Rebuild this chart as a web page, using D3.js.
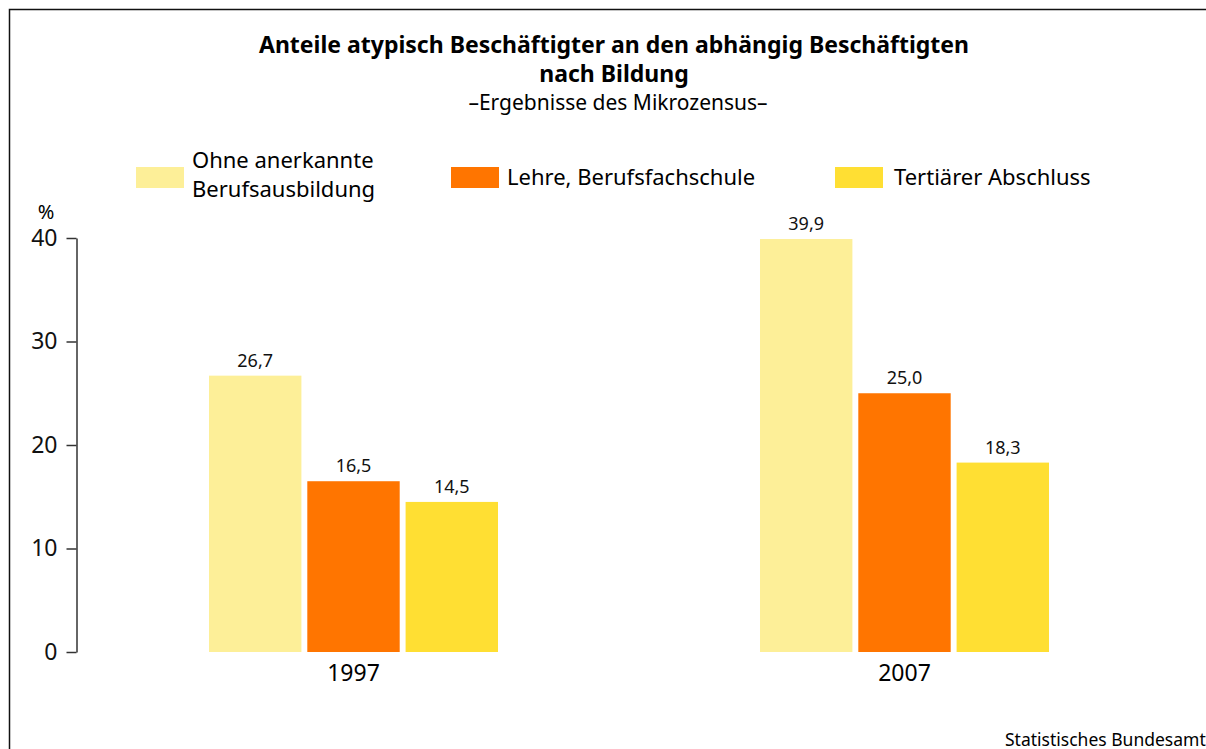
<!DOCTYPE html>
<html>
<head>
<meta charset="utf-8">
<script src="https://cdn.jsdelivr.net/npm/d3@7"></script>
<style>
  body { margin: 0; background: #fff; }
  svg { display: block; font-family: "Noto Sans", "Open Sans", sans-serif; }
</style>
</head>
<body>
<svg id="chart" width="1206" height="749"></svg>
<script>
// data
const years = ['1997', '2007']
const categories = ['Ohne anerkannte Berufsausbildung', 'Lehre, Berufsfachschule', 'Tertiärer Abschluss']
const values1997 = [26.7, 16.5, 14.5]
const values2007 = [39.9, 25.0, 18.3]
const yTicks = [0, 10, 20, 30, 40]
const colors = ['#fdef98', '#ff7500', '#ffdf33']

const svg = d3.select('#chart')

// frame (right and bottom edges run off the picture)
svg.append('rect')
    .attr('x', 9.5).attr('y', 9.5)
    .attr('width', 1300).attr('height', 800)
    .attr('fill', 'none')
    .attr('stroke', '#111')
    .attr('stroke-width', 1.5)

// title
svg.append('text')
    .attr('x', 614).attr('y', 53)
    .attr('text-anchor', 'middle')
    .attr('font-size', 23).attr('font-weight', 'bold')
    .text('Anteile atypisch Beschäftigter an den abhängig Beschäftigten')
svg.append('text')
    .attr('x', 614).attr('y', 82)
    .attr('text-anchor', 'middle')
    .attr('font-size', 23).attr('font-weight', 'bold')
    .text('nach Bildung')
svg.append('text')
    .attr('x', 618).attr('y', 110)
    .attr('text-anchor', 'middle')
    .attr('font-size', 21)
    .text('–Ergebnisse des Mikrozensus–')

// legend
const legendX = [136, 451, 835]
const legend = svg.selectAll('.legend')
    .data(categories)
    .enter()
    .append('g')
    .attr('class', 'legend')
    .attr('transform', (d, i) => `translate(${legendX[i]}, 167)`)

legend.append('rect')
    .attr('width', 48).attr('height', 21)
    .attr('fill', (d, i) => colors[i])

legend.each(function (d, i) {
    let g = d3.select(this)
    let tx = i === 0 ? 56 : (i === 1 ? 56 : 59)
    if (i === 0) {
        g.append('text').attr('x', tx).attr('y', 1).attr('font-size', 22).text('Ohne anerkannte')
        g.append('text').attr('x', tx).attr('y', 30).attr('font-size', 22).text('Berufsausbildung')
    } else {
        g.append('text').attr('x', tx).attr('y', 18).attr('font-size', 22).text(d)
    }
})

// scales
const y = d3.scaleLinear().domain([0, 40]).range([652, 238])
const x0 = d3.scaleBand().domain(years).range([209, 1049]).paddingInner(0.4755).paddingOuter(0)
const x1 = d3.scaleBand().domain(categories).range([0, x0.bandwidth()]).paddingInner(0.06).paddingOuter(0)

// y axis
const yAxis = d3.axisLeft(y).tickValues(yTicks).tickSize(10).tickSizeOuter(0).tickPadding(9)
const ag = svg.append('g')
    .attr('transform', 'translate(76.5, 0)')
    .call(yAxis)
ag.select('.domain').attr('stroke', '#333').attr('stroke-width', 1.5)
ag.selectAll('.tick line').attr('stroke', '#333').attr('stroke-width', 1.5)
ag.selectAll('.tick text')
    .attr('font-family', '"Noto Sans", sans-serif')
    .attr('font-size', 23)
    .attr('fill', '#111')

svg.append('text')
    .attr('x', 46).attr('y', 219)
    .attr('text-anchor', 'middle')
    .attr('font-size', 20)
    .text('%')

// bars
const rows = years.map((yr, i) => ({
    year: yr,
    values: (i === 0 ? values1997 : values2007).map((v, j) => ({ cat: categories[j], value: v, idx: j }))
}))

const group = svg.selectAll('.group')
    .data(rows)
    .enter()
    .append('g')
    .attr('class', 'group')
    .attr('transform', d => `translate(${x0(d.year)}, 0)`)

group.selectAll('rect')
    .data(d => d.values)
    .enter()
    .append('rect')
    .attr('x', d => x1(d.cat))
    .attr('y', d => y(d.value))
    .attr('width', x1.bandwidth())
    .attr('height', d => y(0) - y(d.value))
    .attr('fill', d => colors[d.idx])

group.selectAll('.val')
    .data(d => d.values)
    .enter()
    .append('text')
    .attr('class', 'val')
    .attr('x', d => x1(d.cat) + x1.bandwidth() / 2)
    .attr('y', d => y(d.value) - 9)
    .attr('text-anchor', 'middle')
    .attr('font-size', 18)
    .attr('fill', '#111')
    .text(d => d3.format('.1f')(d.value).replace('.', ','))

group.append('text')
    .attr('x', x0.bandwidth() / 2)
    .attr('y', 681)
    .attr('text-anchor', 'middle')
    .attr('font-size', 23)
    .text(d => d.year)

// source
svg.append('text')
    .attr('x', 1005).attr('y', 746)
    .attr('font-size', 17.5)
    .text('Statistisches Bundesamt')
</script>
</body>
</html>
